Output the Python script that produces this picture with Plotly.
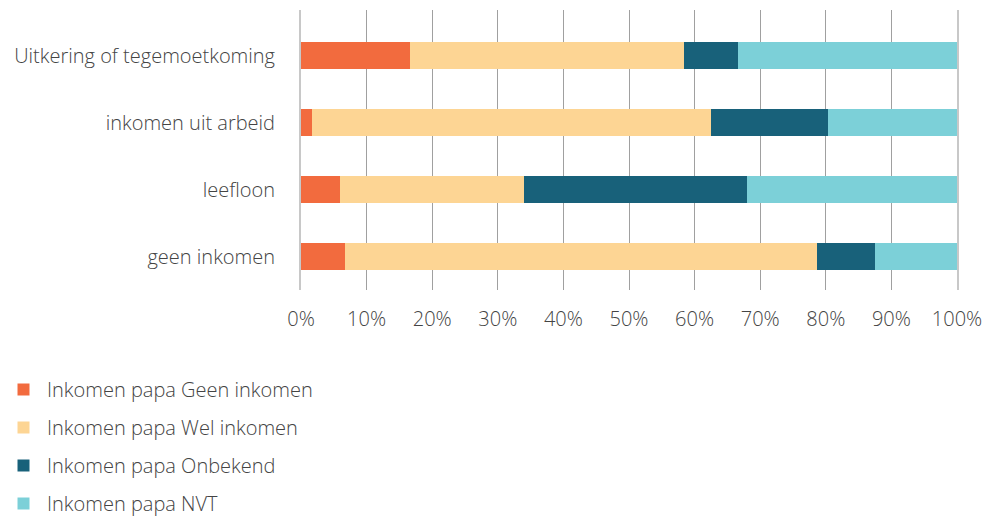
import plotly.graph_objects as go

categories = ["geen inkomen", "leefloon", "inkomen uit arbeid", "Uitkering of tegemoetkoming"]
series_names = ["Inkomen papa Geen inkomen", "Inkomen papa Wel inkomen",
                "Inkomen papa Onbekend", "Inkomen papa NVT"]
geen = [6.7, 5.9, 1.7, 16.6]
wel = [72.0, 28.1, 60.8, 41.8]
onbekend = [8.8, 34.0, 17.8, 8.2]
nvt = [12.5, 32.0, 19.7, 33.4]
colors = ["#F26B3E", "#FDD594", "#18617A", "#7CD0D8"]
tick_vals = [0, 10, 20, 30, 40, 50, 60, 70, 80, 90, 100]
tick_text = [f"{v}%" for v in tick_vals]

FONT = "Open Sans"
FS = 20
fig = go.Figure()
for i, (name, vals) in enumerate(zip(series_names, [geen, wel, onbekend, nvt])):
    fig.add_trace(go.Bar(
        y=categories, x=vals, name=name, orientation="h",
        marker=dict(color=colors[i], line=dict(width=0)),
        width=0.4, legendgroup=f"g{i}",
    ))

fig.update_layout(
    barmode="stack",
    width=996, height=523,
    margin=dict(l=301, r=39, t=10, b=233, autoexpand=False),
    plot_bgcolor="white", paper_bgcolor="white",
    font=dict(family=FONT, size=FS, color="#444444", weight=300),
    showlegend=True,
    legend=dict(
        xref="container", yref="container", x=0.0, y=0.0,
        xanchor="left", yanchor="bottom",
        traceorder="grouped", tracegroupgap=9,
        font=dict(family=FONT, size=FS, color="#444444", weight=300),
        itemwidth=37, borderwidth=0,
    ),
    xaxis=dict(
        range=[0, 100], tickvals=tick_vals, ticktext=tick_text,
        showgrid=True, gridcolor="#A0A0A0", gridwidth=1,
        zeroline=False, showline=False, ticks="",
        ticklabelstandoff=15, fixedrange=True,
        tickfont=dict(family=FONT, size=FS, color="#444444", weight=300),
    ),
    yaxis=dict(
        categoryorder="array", categoryarray=categories,
        range=[-0.5, 3.68],
        showgrid=False, zeroline=False,
        showline=True, mirror=True, linecolor="#C8C8C8", linewidth=2,
        ticks="", ticklabelstandoff=20,
        tickfont=dict(family=FONT, size=FS, color="#444444", weight=300),
    ),
)

fig.write_html("out.html")
